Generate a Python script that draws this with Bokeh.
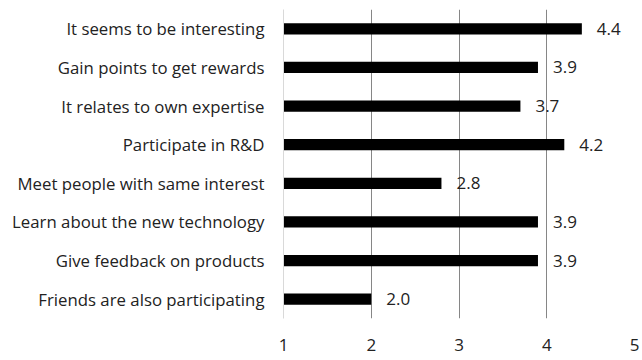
from bokeh.plotting import figure
from bokeh.models import ColumnDataSource, FixedTicker
from bokeh.embed import file_html
from bokeh.resources import INLINE
from bokeh.core.properties import value

categories = [
    "It seems to be interesting",
    "Gain points to get rewards",
    "It relates to own expertise",
    "Participate in R&D",
    "Meet people with same interest",
    "Learn about the new technology",
    "Give feedback on products",
    "Friends are also participating",
]
scores = [4.4, 3.9, 3.7, 4.2, 2.8, 3.9, 3.9, 2.0]
labels = ["4.4", "3.9", "3.7", "4.2", "2.8", "3.9", "3.9", "2.0"]
x_ticks = [1, 2, 3, 4, 5]

FONT = "Open Sans"

src = ColumnDataSource(dict(cat=categories, val=scores, lab=labels))

p = figure(
    width=642, height=360,
    y_range=list(reversed(categories)),
    x_range=(1, 5),
    output_backend="svg", toolbar_location=None,
    min_border_left=283, min_border_right=8, min_border_top=9, min_border_bottom=42,
)
p.outline_line_color = None
p.background_fill_color = "white"
p.border_fill_color = "white"

p.hbar(y="cat", left=1, right="val", height=0.29, source=src,
       fill_color="black", line_color=None)

p.text(x="val", y="cat", text="lab", source=src, x_offset=15,
       text_align="left", text_baseline="middle",
       text_font=value(FONT), text_font_size="17px", text_color="#222222")

p.ygrid.grid_line_color = None
p.xgrid.ticker = FixedTicker(ticks=[2, 3, 4, 5])
p.xgrid.grid_line_color = "#868686"
p.xgrid.grid_line_width = 1

p.xaxis.ticker = FixedTicker(ticks=x_ticks)
p.xaxis.axis_line_color = None
p.xaxis.major_tick_line_color = None
p.xaxis.minor_tick_line_color = None
p.xaxis.major_label_standoff = 14
p.xaxis.major_label_text_font = FONT
p.xaxis.major_label_text_font_size = "17px"
p.xaxis.major_label_text_color = "#222222"

p.yaxis.axis_line_color = "#d9d9d9"
p.yaxis.major_tick_line_color = None
p.yaxis.minor_tick_line_color = None
p.yaxis.major_label_standoff = 13
p.yaxis.major_label_text_font = FONT
p.yaxis.major_label_text_font_size = "16.8px"
p.yaxis.major_label_text_color = "#222222"

open("out.html", "w").write(file_html(p, INLINE))
